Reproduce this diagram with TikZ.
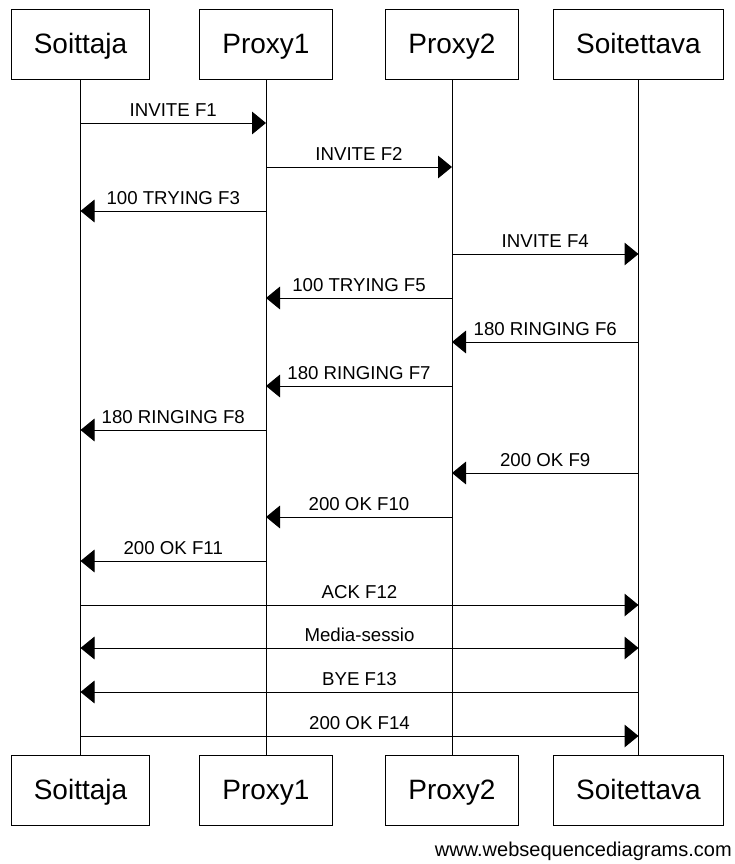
\documentclass[tikz,border=0pt]{standalone}
\usepackage{fontspec}
\setmainfont{Liberation Sans}
\usepackage{tikz}
\usetikzlibrary{arrows.meta}

\tikzset{
  actor/.style={draw=black, line width=0.8pt, fill=white, minimum height=53pt,
    inner xsep=17pt, text height=15pt, text depth=2pt,
    font=\fontsize{21}{24}\selectfont},
  life/.style={line width=0.75pt},
  msg/.style={line width=0.75pt, -{Triangle[length=10.5pt,width=17pt]}},
  msgboth/.style={line width=0.75pt,
    {Triangle[length=10.5pt,width=17pt]}-{Triangle[length=10.5pt,width=17pt]}},
  lbl/.style={anchor=base, yshift=5.25pt, inner sep=0pt,
    font=\fontsize{14}{16}\selectfont},
}

\begin{document}
\begin{tikzpicture}[x=0.75pt, y=-0.75pt]
% canvas
\useasboundingbox[fill=white] (0,0) rectangle (735,864);
% participants, top row
\node[actor] (callerT) at (80.5,44.5) {Soittaja};
\node[actor] (proxyAT) at (266,44.5) {Proxy1};
\node[actor] (proxyBT) at (452,44.5) {Proxy2};
\node[actor] (calleeT) at (638.5,44.5) {Soitettava};
% participants, bottom row
\node[actor] (callerB) at (80.5,790.5) {Soittaja};
\node[actor] (proxyAB) at (266,790.5) {Proxy1};
\node[actor] (proxyBB) at (452,790.5) {Proxy2};
\node[actor] (calleeB) at (638.5,790.5) {Soitettava};
% lifelines
\draw[life] (callerT) -- (callerB);
\draw[life] (proxyAT) -- (proxyAB);
\draw[life] (proxyBT) -- (proxyBB);
\draw[life] (calleeT) -- (calleeB);
% call setup
\draw[msg] (callerT |- 0,123) -- node[lbl] {INVITE F1} (proxyAT |- 0,123);
\draw[msg] (proxyAT |- 0,167) -- node[lbl] {INVITE F2} (proxyBT |- 0,167);
\draw[msg] (proxyAT |- 0,211) -- node[lbl] {100 TRYING F3} (callerT |- 0,211);
\draw[msg] (proxyBT |- 0,254) -- node[lbl] {INVITE F4} (calleeT |- 0,254);
\draw[msg] (proxyBT |- 0,298) -- node[lbl] {100 TRYING F5} (proxyAT |- 0,298);
\draw[msg] (calleeT |- 0,342) -- node[lbl] {180 RINGING F6} (proxyBT |- 0,342);
\draw[msg] (proxyBT |- 0,386) -- node[lbl] {180 RINGING F7} (proxyAT |- 0,386);
\draw[msg] (proxyAT |- 0,430) -- node[lbl] {180 RINGING F8} (callerT |- 0,430);
% answer
\draw[msg] (calleeT |- 0,473) -- node[lbl] {200 OK F9} (proxyBT |- 0,473);
\draw[msg] (proxyBT |- 0,517) -- node[lbl] {200 OK F10} (proxyAT |- 0,517);
\draw[msg] (proxyAT |- 0,561) -- node[lbl] {200 OK F11} (callerT |- 0,561);
\draw[msg] (callerT |- 0,605) -- node[lbl] {ACK F12} (calleeT |- 0,605);
% session and teardown
\draw[msgboth] (callerT |- 0,648) -- node[lbl] {Media-sessio} (calleeT |- 0,648);
\draw[msg] (calleeT |- 0,692) -- node[lbl] {BYE F13} (callerT |- 0,692);
\draw[msg] (callerT |- 0,736) -- node[lbl] {200 OK F14} (calleeT |- 0,736);
% watermark
\node[anchor=base east, inner sep=0pt, font=\fontsize{15}{17}\selectfont]
  (mark) at (732,856) {www.websequencediagrams.com};
\end{tikzpicture}
\end{document}
